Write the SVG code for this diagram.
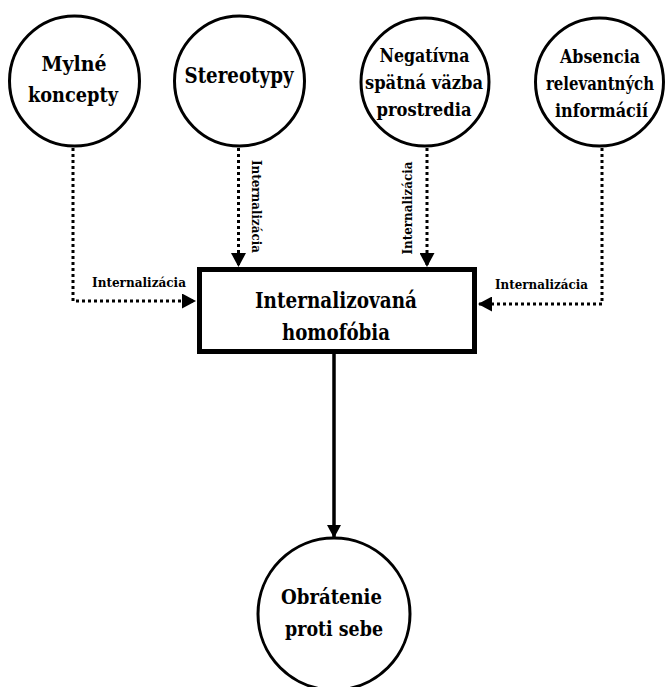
<svg xmlns="http://www.w3.org/2000/svg" width="665" height="687" viewBox="0 0 665 687">
  <style>
    .node { fill: #ffffff; stroke: #000000; stroke-width: 3; }
    .box { fill: #ffffff; stroke: #000000; stroke-width: 5; }
    text { font-family: "DejaVu Serif", serif; font-weight: bold; fill: #000000; text-anchor: middle; }
    .dot { fill: none; stroke: #000000; stroke-width: 3; stroke-dasharray: 3 3; }
    .solid { fill: none; stroke: #000000; stroke-width: 3.5; }
    .lbl { font-size: 13.6px; }
  </style>
  <defs>
    <marker id="head" markerUnits="userSpaceOnUse" markerWidth="15" markerHeight="15" refX="14" refY="7.5" orient="auto">
      <path d="M0,0 L14,7.5 L0,15 z" fill="#000000"/>
    </marker>
    <marker id="headSolid" markerUnits="userSpaceOnUse" markerWidth="14" markerHeight="14" refX="13" refY="7" orient="auto">
      <path d="M0,0 L13,7 L0,14 z" fill="#000000"/>
    </marker>
  </defs>

  <rect width="665" height="687" fill="#ffffff"/>

  <!-- connectors -->
  <g id="connectors">
    <path class="dot" d="M73,148 V301 H196" marker-end="url(#head)"/>
    <path class="dot" d="M238.5,148 V267" marker-end="url(#head)"/>
    <path class="dot" d="M427,148 V267" marker-end="url(#head)"/>
    <path class="dot" d="M602,148 V304 H478" marker-end="url(#head)"/>
    <path class="solid" d="M334,354 V538" marker-end="url(#headSolid)"/>

    <text class="lbl" x="139" y="287" textLength="94" lengthAdjust="spacingAndGlyphs">Internalizácia</text>
    <text class="lbl" x="541.5" y="289" textLength="93" lengthAdjust="spacingAndGlyphs">Internalizácia</text>
    <text class="lbl" transform="translate(252,206.5) rotate(90)" textLength="93" lengthAdjust="spacingAndGlyphs">Internalizácia</text>
    <text class="lbl" transform="translate(411.5,208) rotate(-90)" textLength="93" lengthAdjust="spacingAndGlyphs">Internalizácia</text>
  </g>

  <!-- source nodes -->
  <g id="mylne-koncepty">
    <circle class="node" cx="74.5" cy="81" r="65"/>
    <text font-size="21" x="74" y="71" textLength="65" lengthAdjust="spacingAndGlyphs">Mylné</text>
    <text font-size="21" x="73" y="102" textLength="90" lengthAdjust="spacingAndGlyphs">koncepty</text>
  </g>

  <g id="stereotypy">
    <circle class="node" cx="239.5" cy="81" r="65"/>
    <text font-size="21.4" x="239" y="83" textLength="109" lengthAdjust="spacingAndGlyphs">Stereotypy</text>
  </g>

  <g id="negativna-spatna-vazba">
    <circle class="node" cx="425" cy="82" r="64"/>
    <text font-size="19" x="424.5" y="62" textLength="90" lengthAdjust="spacingAndGlyphs">Negatívna</text>
    <text font-size="19" x="424" y="89" textLength="118" lengthAdjust="spacingAndGlyphs">spätná väzba</text>
    <text font-size="19" x="424" y="116" textLength="95" lengthAdjust="spacingAndGlyphs">prostredia</text>
  </g>

  <g id="absencia-informacii">
    <circle class="node" cx="599.5" cy="82" r="64"/>
    <text font-size="18.5" x="600" y="63" textLength="80" lengthAdjust="spacingAndGlyphs">Absencia</text>
    <text font-size="18.5" x="600" y="90" textLength="108" lengthAdjust="spacingAndGlyphs">relevantných</text>
    <text font-size="18.5" x="601.5" y="117" textLength="93" lengthAdjust="spacingAndGlyphs">informácií</text>
  </g>

  <!-- central box -->
  <g id="internalizovana-homofobia">
    <rect class="box" x="199.5" y="269.5" width="275" height="82"/>
    <text font-size="22" x="336" y="308" textLength="162" lengthAdjust="spacingAndGlyphs">Internalizovaná</text>
    <text font-size="22" x="336" y="340" textLength="108" lengthAdjust="spacingAndGlyphs">homofóbia</text>
  </g>

  <!-- outcome -->
  <g id="obratenie-proti-sebe">
    <circle class="node" cx="334" cy="614" r="76"/>
    <text font-size="21.3" x="331.5" y="604" textLength="101" lengthAdjust="spacingAndGlyphs">Obrátenie</text>
    <text font-size="21.3" x="334" y="636" textLength="98" lengthAdjust="spacingAndGlyphs">proti sebe</text>
  </g>
</svg>
